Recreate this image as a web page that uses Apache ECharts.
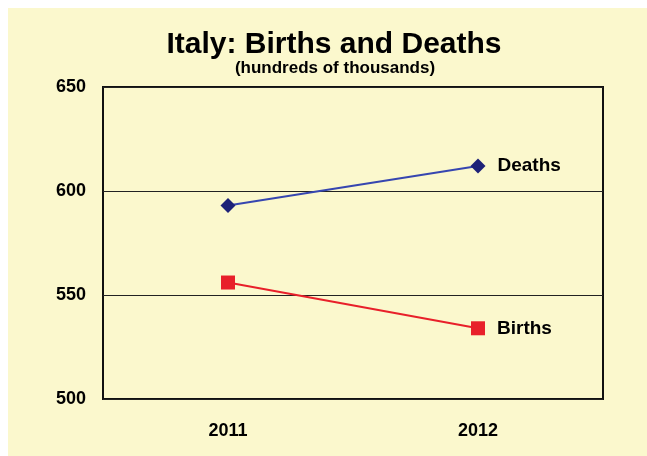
<!DOCTYPE html>
<html>
<head>
<meta charset="utf-8">
<script src="https://cdn.jsdelivr.net/npm/echarts@6/dist/echarts.min.js"></script>
<style>
  html, body { margin: 0; padding: 0; background: #ffffff; }
  #chart { position: absolute; left: 8px; top: 8px; width: 639px; height: 448px; }
</style>
</head>
<body>
<div id="chart"></div>
<script>
// Years on the horizontal axis
const years = ['2011', '2012'];
// Values in hundreds of thousands
const deaths = [593, 612];
const births = [556, 534];
// Vertical axis range
const yMin = 500;
const yMax = 650;
const yStep = 50;

const FONT = '"Liberation Sans", Arial, sans-serif';
const chart = echarts.init(document.getElementById('chart'), null, { renderer: 'canvas' });

chart.setOption({
  backgroundColor: '#FBF8CD',
  animation: false,
  title: [
    {
      text: 'Italy: Births and Deaths',
      left: 321, top: 17, textAlign: 'center',
      textStyle: { fontFamily: FONT, fontWeight: 'bold', fontSize: 30, color: '#000' }
    },
    {
      text: '(hundreds of thousands)',
      left: 322, top: 47, textAlign: 'center',
      textStyle: { fontFamily: FONT, fontWeight: 'bold', fontSize: 17, color: '#000' }
    }
  ],
  grid: {
    left: 95, right: 44, top: 79, bottom: 57,
    show: true, borderColor: '#111', borderWidth: 2, backgroundColor: 'transparent'
  },
  xAxis: {
    type: 'category',
    data: years,
    boundaryGap: true,
    axisLine: { show: false },
    axisTick: { show: false },
    axisLabel: { margin: 23, fontFamily: FONT, fontWeight: 'bold', fontSize: 18, color: '#000' }
  },
  yAxis: {
    type: 'value',
    min: yMin, max: yMax, interval: yStep,
    axisLine: { show: false },
    axisTick: { show: false },
    axisLabel: { margin: 17, fontFamily: FONT, fontWeight: 'bold', fontSize: 18, color: '#000' },
    splitLine: { show: true, lineStyle: { color: '#222', width: 1 } }
  },
  series: [
    {
      name: 'Deaths',
      type: 'line',
      data: deaths,
      symbol: 'diamond',
      symbolSize: 15,
      itemStyle: { color: '#1E2278' },
      lineStyle: { color: '#3646B0', width: 2 },
      label: {
        show: true,
        position: 'right',
        distance: 12,
        formatter: p => p.dataIndex === deaths.length - 1 ? 'Deaths' : '',
        fontFamily: FONT, fontWeight: 'bold', fontSize: 19, color: '#000'
      }
    },
    {
      name: 'Births',
      type: 'line',
      data: births,
      symbol: 'rect',
      symbolSize: 14,
      itemStyle: { color: '#E8202A' },
      lineStyle: { color: '#E8202A', width: 2 },
      label: {
        show: true,
        position: 'right',
        distance: 12,
        formatter: p => p.dataIndex === births.length - 1 ? 'Births' : '',
        fontFamily: FONT, fontWeight: 'bold', fontSize: 19, color: '#000'
      }
    }
  ]
});
</script>
</body>
</html>
